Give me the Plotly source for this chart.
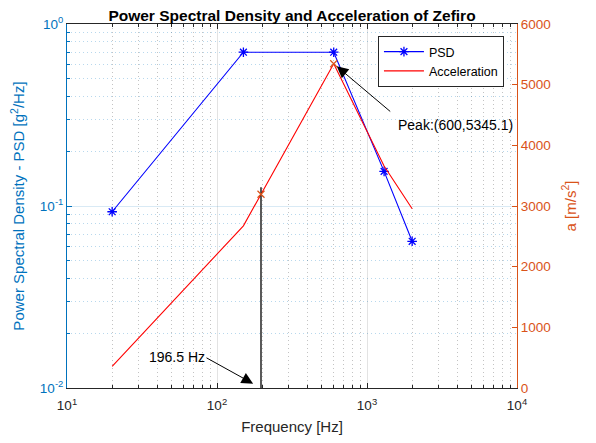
import math
import plotly.graph_objects as go

# ---- data ----
freq = [20, 150, 600, 1300, 2000]                 # Hz
psd = [0.093, 0.7, 0.7, 0.155, 0.064]             # g^2/Hz
accel_freq = [20, 150, 600, 1300, 2000]           # Hz
accel = [355, 2673, 5345.1, 3660, 2955]           # m/s^2
peak_x = [600]
peak_y = [5345.1]
cut_x = [196.5]
cut_y = [3193]
cut_line_x = [196.5, 196.5]
cut_line_y = [0, 3310]

x_tickvals = [10, 100, 1000, 10000]
x_ticktext = ["10<sup>1</sup>", "10<sup>2</sup>", "10<sup>3</sup>", "10<sup>4</sup>"]
y_tickvals = [0.01, 0.1, 1]
y_ticktext = ["10<sup>-2</sup>", "10<sup>-1</sup>", "10<sup>0</sup>"]
y2_tickvals = [0, 1000, 2000, 3000, 4000, 5000, 6000]

BLUE_AX = "#0072BD"
ORANGE_AX = "#D95319"
DARK = "#262626"
FONT = "Liberation Sans, Arial, Helvetica, sans-serif"

x_minor = [m * 10 ** k for k in range(1, 4) for m in range(2, 10)]
y_minor = [m * 10 ** k for k in range(-2, 0) for m in range(2, 10)]

fig = go.Figure()

fig.add_trace(go.Scatter(
    x=freq, y=psd, name="PSD", mode="lines+markers",
    line=dict(color="#0000FF", width=1.1),
    marker=dict(symbol="asterisk-open", size=8, color="#0000FF",
                line=dict(color="#0000FF", width=1.3)),
))
fig.add_trace(go.Scatter(
    x=accel_freq, y=accel, name="Acceleration", mode="lines",
    line=dict(color="#FF0000", width=1.1), yaxis="y2",
))
fig.add_trace(go.Scatter(
    x=cut_line_x, y=cut_line_y, mode="lines", yaxis="y2",
    line=dict(color="black", width=1.3), showlegend=False, hoverinfo="skip",
))
fig.add_trace(go.Scatter(
    x=peak_x + cut_x, y=peak_y + cut_y, mode="markers", yaxis="y2",
    marker=dict(symbol="x-thin-open", size=7, color=ORANGE_AX,
                line=dict(color=ORANGE_AX, width=1.2)),
    showlegend=False,
))

annotations = [
    dict(x=math.log10(peak_x[0]), y=peak_y[0], xref="x", yref="y2", text="",
         showarrow=True, ax=58, ay=49, standoff=4, arrowhead=2, arrowsize=2.3,
         arrowwidth=1, arrowcolor="black"),
    dict(x=math.log10(peak_x[0]), y=peak_y[0], xref="x", yref="y2",
         text=f"Peak:({peak_x[0]},{peak_y[0]})", showarrow=False,
         xanchor="left", yanchor="middle", xshift=62, yshift=-61,
         font=dict(family=FONT, size=14, color="black")),
    dict(x=math.log10(cut_x[0]), y=0, xref="x", yref="y2", text="",
         showarrow=True, ax=-56, ay=-31, standoff=9, arrowhead=2, arrowsize=2.3,
         arrowwidth=1, arrowcolor="black"),
    dict(x=math.log10(cut_x[0]), y=0, xref="x", yref="y2",
         text=f"{cut_x[0]} Hz", showarrow=False,
         xanchor="center", yanchor="middle", xshift=-84, yshift=31,
         font=dict(family=FONT, size=14, color="black")),
]

fig.update_layout(
    width=588, height=435,
    margin=dict(l=59, r=79, t=16, b=55, autoexpand=False),
    paper_bgcolor="white", plot_bgcolor="white",
    font=dict(family=FONT, size=13, color=DARK),
    title=dict(text="<b>Power Spectral Density and Acceleration of Zefiro</b>",
               x=0.5, xanchor="center", xref="paper",
               y=1, yref="paper", yanchor="bottom", pad=dict(b=3),
               font=dict(family=FONT, size=15.5, color="black")),
    showlegend=True,
    legend=dict(x=0.691, y=0.967, xanchor="left", yanchor="top",
                bgcolor="white", bordercolor=DARK, borderwidth=1,
                font=dict(family=FONT, size=12.5, color="black"),
                itemwidth=40, tracegroupgap=0),
    xaxis=dict(
        type="log", range=[1, 4], tickmode="array", automargin=False,
        tickvals=x_tickvals, ticktext=x_ticktext,
        ticks="inside", ticklen=5, tickcolor=DARK, ticklabelstandoff=5,
        showline=True, linecolor=DARK, linewidth=1, mirror="ticks",
        showgrid=True, gridcolor="rgba(38,38,38,0.13)", gridwidth=1,
        zeroline=False,
        tickfont=dict(family=FONT, size=13.5, color=DARK),
        title=dict(text="Frequency [Hz]", standoff=9,
                   font=dict(family=FONT, size=15, color=DARK)),
        minor=dict(tickmode="array", tickvals=x_minor, ticks="inside", ticklen=3,
                   tickcolor=DARK, showgrid=True, griddash="1px,3px",
                   gridcolor="rgba(38,38,38,0.28)", gridwidth=1),
    ),
    yaxis=dict(
        type="log", range=[-2, 0], tickmode="array", automargin=False,
        tickvals=y_tickvals, ticktext=y_ticktext,
        ticks="inside", ticklen=5, tickcolor=BLUE_AX,
        showline=True, linecolor=BLUE_AX, linewidth=1,
        showgrid=True, gridcolor="rgba(0,114,189,0.15)", gridwidth=1,
        zeroline=False,
        tickfont=dict(family=FONT, size=13.5, color=BLUE_AX),
        title=dict(text="Power Spectral Density - PSD [g<sup>2</sup>/Hz]", standoff=13,
                   font=dict(family=FONT, size=15, color=BLUE_AX)),
        minor=dict(tickmode="array", tickvals=y_minor, ticks="inside", ticklen=3,
                   tickcolor=BLUE_AX, showgrid=True, griddash="1px,3px",
                   gridcolor="rgba(0,114,189,0.28)", gridwidth=1),
    ),
    yaxis2=dict(
        overlaying="y", side="right", range=[0, 6000], tickmode="array",
        automargin=False, tickvals=y2_tickvals,
        ticks="inside", ticklen=5, tickcolor=ORANGE_AX,
        showline=True, linecolor=ORANGE_AX, linewidth=1,
        showgrid=False, zeroline=False,
        tickfont=dict(family=FONT, size=13.5, color=ORANGE_AX),
        title=dict(text="a [m/s<sup>2</sup>]", standoff=15,
                   font=dict(family=FONT, size=15, color=ORANGE_AX)),
    ),
    annotations=annotations,
)

fig.write_html("out.html")
